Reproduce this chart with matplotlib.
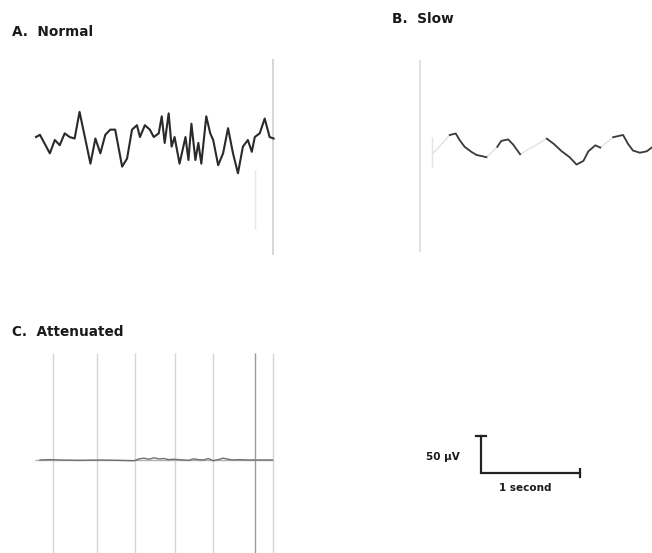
import matplotlib.pyplot as plt
import numpy as np

# figure is 652 x 553 px, drawn at 100 dpi
W, H = 652, 553
PX_PER_S = 99.0    # from the 1 second bar
PX_PER_UV = 0.74   # from the 50 uV bar

# A. Normal (time in s, amplitude in uV)
t_normal = [0.01, 0.05, 0.15, 0.20, 0.25, 0.30, 0.35, 0.40, 0.45, 0.51,
            0.56, 0.61, 0.66, 0.71, 0.76, 0.81, 0.88, 0.93, 0.98, 1.03,
            1.06, 1.11, 1.16, 1.20, 1.25, 1.28, 1.31, 1.35, 1.38, 1.41,
            1.46, 1.52, 1.55, 1.58, 1.62, 1.65, 1.68, 1.73, 1.77, 1.80,
            1.85, 1.90, 1.95, 2.00, 2.05, 2.10, 2.15, 2.19, 2.22, 2.27,
            2.32, 2.37, 2.41]
v_normal = [4, 7, -18, 0, -7, 9, 4, 2, 38, 0,
            -32, 2, -18, 7, 14, 14, -36, -25, 14, 20,
            4, 20, 14, 4, 9, 32, -4, 36, -9, 4,
            -32, 4, -27, 22, -27, -4, -32, 32, 9, 0,
            -34, -18, 16, -18, -45, -9, 0, -16, 4, 9,
            29, 4, 2]

# B. Slow (nan = pen lifted / faded in the scan)
t_slow = [0.03, 0.10, 0.20, 0.26, 0.30, 0.35, 0.42, 0.47, 0.57, 0.62,
          0.68, 0.72, 0.79, 0.84, 0.91, 1.05, 1.18, 1.25, 1.33, 1.41,
          1.48, 1.55, 1.60, 1.67, 1.72, 1.78, 1.85, 1.95, 2.00, 2.05,
          2.12, 2.19, 2.24]
v_slow = [-2, np.nan, 23, 25, 16, 7, 0, -4, -7, np.nan,
          7, 15, 17, 10, -3, np.nan, 18, 11, 1, -7,
          -17, -12, 1, 9, 6, np.nan, 20, 23, 11, 2,
          -1, 1, 6]

# C. Attenuated
t_att = [0.0, 0.1, 0.2, 0.4, 0.6, 0.8, 0.95, 1.0, 1.05, 1.1,
         1.15, 1.2, 1.25, 1.3, 1.35, 1.45, 1.5, 1.55, 1.6, 1.65,
         1.7, 1.75, 1.8, 1.85, 1.9, 1.95, 2.0, 2.1, 2.2, 2.35]
v_att = [0, 0.5, 0, -0.5, 0, -0.5, -1, 1.5, 2.5, 1,
         3, 1.5, 2, 0.5, 1, 0, -0.5, 1.5, 0.5, 0,
         2, -1, 0.5, 2.5, 1, 0, 0.5, 0, 0, 0]
# chart paper lines in panel C (s)
grid_att = [0.13, 0.58, 0.96, 1.36, 1.75, 2.17, 2.35]

scale_uv = 50
scale_s = 1

fig = plt.figure(figsize=(W / 100, H / 100), dpi=100)
fig.patch.set_facecolor('white')


def panel(x0, y0, tmin=-0.3, tmax=2.7, vmin=-170, vmax=170):
    # x0, y0: pixel position (from top-left) of t=0, v=0
    left = x0 + tmin * PX_PER_S
    w = (tmax - tmin) * PX_PER_S
    bottom = H - y0 + vmin * PX_PER_UV
    h = (vmax - vmin) * PX_PER_UV
    ax = fig.add_axes([left / W, bottom / H, w / W, h / H])
    ax.set_xlim(tmin, tmax)
    ax.set_ylim(vmin, vmax)
    ax.axis('off')
    return ax


# A
axA = panel(35, 140)
axA.vlines(2.40, -155, 110, color='#d0d0d0', lw=1.2)
axA.vlines(2.22, -120, -40, color='#e8e8e8', lw=1.0)
axA.plot(t_normal, v_normal, color='#2a2a2a', lw=1.5)

# B
axB = panel(430, 152)
axB.vlines(-0.10, -135, 125, color='#dcdcdc', lw=1.2)
axB.vlines(0.02, -20, 20, color='#e4e4e4', lw=1.0)
t_s = np.array(t_slow)
v_s = np.array(v_slow)
ok = ~np.isnan(v_s)
axB.plot(t_s[ok], v_s[ok], color='#e2e2e2', lw=1.0)
axB.plot(t_s, v_s, color='#3a3a3a', lw=1.3)

# C
axC = panel(40, 460)
for g in grid_att:
    c = '#9a9a9a' if g == 2.17 else '#d6d6d6'
    axC.vlines(g, -140, 145, color=c, lw=1.0)
axC.hlines(0, -0.05, 2.35, color='#b0b0b0', lw=1.0)
axC.plot(t_att, v_att, color='#707070', lw=1.0)

# scale bar
axS = panel(481, 473, -0.8, 1.3, -40, 80)
axS.plot([0, 0, scale_s], [scale_uv, 0, 0], color='#222222', lw=1.6,
         solid_joinstyle='miter')
axS.plot([-0.05, 0.05], [scale_uv, scale_uv], color='#222222', lw=1.6)
axS.plot([scale_s, scale_s], [-6, 6], color='#222222', lw=1.6)

# labels
tkw = dict(fontsize=9.8, fontweight='bold', color='#1a1a1a',
           family='DejaVu Sans', va='center', ha='left')
fig.text(12 / W, 1 - 32 / H, 'A.  Normal', **tkw)
fig.text(392 / W, 1 - 19 / H, 'B.  Slow', **tkw)
fig.text(12 / W, 1 - 332 / H, 'C.  Attenuated', **tkw)

skw = dict(fontsize=7.5, fontweight='bold', color='#1a1a1a',
           family='DejaVu Sans', va='center', ha='left')
fig.text(426 / W, 1 - 457 / H, '50 µV', **skw)
fig.text(499 / W, 1 - 488 / H, '1 second', **skw)

fig.savefig('out.png', dpi=100, facecolor='white')
